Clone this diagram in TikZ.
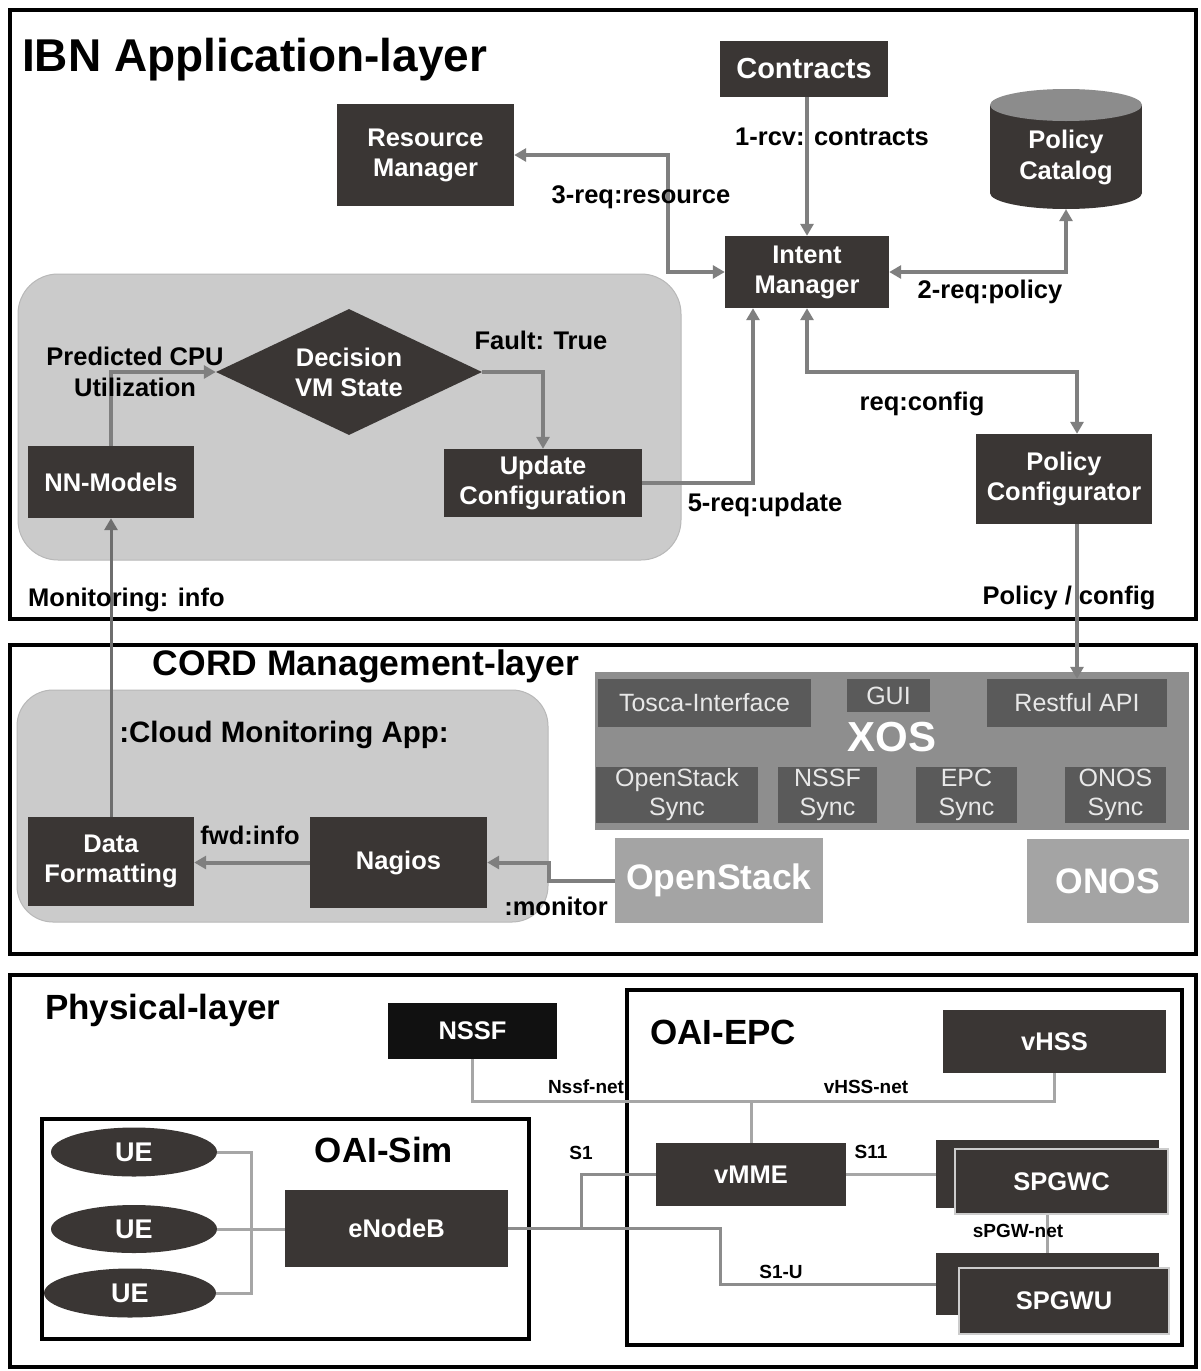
\documentclass[tikz,border=0pt]{standalone}
\usepackage{fontspec}
\setmainfont{Liberation Sans}
\usetikzlibrary{arrows.meta,shapes.geometric,calc}
\definecolor{nodedark}{HTML}{3A3634}
\definecolor{arrowgray}{HTML}{7F7F7F}
\definecolor{monline}{HTML}{6E6E6E}
\definecolor{regiongray}{HTML}{CBCBCB}
\definecolor{regionedge}{HTML}{B8B8B8}
\definecolor{xosgray}{HTML}{8E8E8E}
\definecolor{subgray}{HTML}{5A5A5A}
\definecolor{subtext}{HTML}{E8E8E8}
\definecolor{stackgray}{HTML}{A4A4A4}
\definecolor{linkgray}{HTML}{A6A6A6}
\definecolor{linkdark}{HTML}{8C8C8C}
\definecolor{catalogtop}{HTML}{8C8C8C}
\definecolor{nssfblack}{HTML}{111111}
\begin{document}
\begin{tikzpicture}[x=1pt,y=-1pt,
  dbox/.style={rectangle, fill=nodedark, text=white, font=\bfseries\fontsize{25.5}{30}\selectfont, align=center, inner sep=0pt},
  subbox/.style={rectangle, fill=subgray, text=subtext, font=\fontsize{25}{29}\selectfont, align=center, inner sep=0pt},
  bigbox/.style={rectangle, fill=stackgray, text=white, font=\bfseries\fontsize{35.5}{40}\selectfont, inner sep=0pt},
  lbl/.style={font=\bfseries\fontsize{25.5}{31}\selectfont, align=center, inner sep=0pt},
  ttl/.style={font=\bfseries\fontsize{35}{40}\selectfont, inner sep=0pt},
  smalllbl/.style={font=\bfseries\fontsize{19}{22}\selectfont, inner sep=0pt},
  layerframe/.style={draw=black, line width=3.5pt},
  region/.style={fill=regiongray, draw=regionedge, line width=1pt},
  flow/.style={draw=arrowgray, line width=4pt, -{Triangle[length=12pt,width=13pt]}},
  flowboth/.style={draw=arrowgray, line width=4pt, {Triangle[length=12pt,width=13pt]}-{Triangle[length=12pt,width=13pt]}},
  link/.style={draw=linkgray, line width=3pt},
  ue/.style={ellipse, fill=nodedark, text=white, font=\bfseries\fontsize{27}{30}\selectfont, inner sep=0pt},
]
\fill[white] (0,0) rectangle (1200,1371);
\useasboundingbox (0,0) rectangle (1200,1371);

% ================= IBN Application-layer =================
\draw[layerframe] (10,10) rectangle (1196,619);
\node[font=\bfseries\fontsize{46}{50}\selectfont, inner sep=0pt, anchor=west] (ibntitle) at (22,60) {IBN Application-layer};
\draw[region, rounded corners=40pt] (18,274) rectangle (681,560);

\node[dbox, font=\bfseries\fontsize{29}{32}\selectfont, minimum width=168pt, minimum height=56pt] (contracts) at (804,69) {Contracts};
\node[dbox, minimum width=177pt, minimum height=102pt] (resmgr) at (425.5,155) {Resource\\Manager};
\node[dbox, minimum width=164pt, minimum height=72pt] (intent) at (807,272) {Intent\\Manager};
% Policy Catalog cylinder
\fill[nodedark] (1066,193) ellipse [x radius=76, y radius=16];
\fill[nodedark] (990,105) rectangle (1142,193);
\fill[catalogtop] (1066,105) ellipse [x radius=76, y radius=16];
\node[lbl, text=white, minimum width=152pt, minimum height=104pt] (catalog) at (1066,157) {Policy\\Catalog};
\node[dbox, minimum width=176pt, minimum height=90pt] (polconf) at (1064,479) {Policy\\Configurator};
\node[dbox, minimum width=198pt, minimum height=68pt] (update) at (543,483) {Update\\Configuration};
\node[dbox, minimum width=166pt, minimum height=72pt] (nn) at (111,482) {NN-Models};
\node[dbox, diamond, aspect=2.1, minimum width=266pt, minimum height=126pt] (decision) at (349,372) {Decision\\VM State};

% ================= CORD Management-layer =================
\draw[layerframe] (10,645) rectangle (1196,954);
\node[ttl, font=\bfseries\fontsize{35.5}{40}\selectfont] (cordtitle) at (366,666) {CORD Management-layer};
\draw[region, rounded corners=36pt] (17,690) rectangle (548,922);
\node[lbl, font=\bfseries\fontsize{29.5}{33}\selectfont] (cloudapp) at (284,735) {:Cloud Monitoring App:};
\node[dbox, minimum width=166pt, minimum height=89pt] (df) at (111,861.5) {Data\\Formatting};
\node[dbox, minimum width=177pt, minimum height=91pt] (nagios) at (398.5,862.5) {Nagios};

\node[fill=xosgray, minimum width=594pt, minimum height=158pt, inner sep=0pt] (xos) at (892,751) {};
\node[subbox, minimum width=213pt, minimum height=48pt] (tosca) at (704.5,703) {Tosca-Interface};
\node[subbox, minimum width=83pt, minimum height=33pt] (gui) at (888.5,695.5) {GUI};
\node[subbox, minimum width=180pt, minimum height=48pt] (rest) at (1077,703) {Restful API};
\node[font=\bfseries\fontsize{42}{46}\selectfont, text=white, inner sep=0pt] (xoslabel) at (892,737) {XOS};
\node[subbox, minimum width=162pt, minimum height=56pt] (ossync) at (677,795) {OpenStack\\Sync};
\node[subbox, minimum width=99pt, minimum height=56pt] (nssfsync) at (827.5,795) {NSSF\\Sync};
\node[subbox, minimum width=101pt, minimum height=56pt] (epcsync) at (966.5,795) {EPC\\Sync};
\node[subbox, minimum width=101pt, minimum height=56pt] (onossync) at (1115.5,795) {ONOS\\Sync};
\node[bigbox, minimum width=208pt, minimum height=85pt] (openstack) at (719,880.5) {OpenStack};
\node[bigbox, minimum width=162pt, minimum height=84pt] (onos) at (1108,881) {ONOS};

% ================= Physical-layer =================
\draw[layerframe] (10,975) rectangle (1196,1367);
\node[ttl, anchor=west] (phystitle) at (45,1010) {Physical-layer};
\draw[layerframe] (627,990) rectangle (1182,1345);
\node[ttl, anchor=west] (epctitle) at (650,1032) {OAI-EPC};
\draw[layerframe] (42,1119) rectangle (529,1339);
\node[ttl] (simtitle) at (384,1150) {OAI-Sim};

\node[dbox, fill=nssfblack, minimum width=169pt, minimum height=56pt] (nssf) at (472.5,1031) {NSSF};
\node[dbox, minimum width=223pt, minimum height=63pt] (vhss) at (1054.5,1041.5) {vHSS};
\node[dbox, minimum width=190pt, minimum height=63pt] (vmme) at (751,1174.5) {vMME};
\node[dbox, minimum width=223pt, minimum height=68pt] (spgwcb) at (1047.5,1174) {};
\node[dbox, draw=white!80!black, line width=1.5pt, minimum width=213pt, minimum height=65pt] (spgwc) at (1061.5,1181.5) {SPGWC};
\node[dbox, minimum width=223pt, minimum height=62pt] (spgwub) at (1047.5,1284) {};
\node[dbox, draw=white!80!black, line width=1.5pt, minimum width=210pt, minimum height=66pt] (spgwu) at (1064,1301) {SPGWU};

\node[ue, minimum width=166pt, minimum height=49pt] (ue1) at (134,1152) {UE};
\node[ue, minimum width=166pt, minimum height=48pt] (ue2) at (134,1229) {UE};
\node[ue, minimum width=172pt, minimum height=49pt] (ue3) at (130,1293) {UE};
\node[dbox, minimum width=223pt, minimum height=77pt] (enb) at (396.5,1228.5) {eNodeB};

% ================= Connectors =================
\coordinate (rbend) at (668,200);
\coordinate (cfgbend) at (1077,372);
\coordinate (upin) at ($(intent.south)+(-54,0)$);
\draw[flow] (intent.north |- contracts.south) -- (intent.north);
\draw[flowboth] (resmgr.east) -| (rbend) |- (intent.west);
\draw[flowboth] (intent.east) -| (catalog.south);
\draw[flow] (update.east) -| (upin);
\draw[flowboth] (intent.south) |- (cfgbend) -- (cfgbend |- polconf.north);
\draw[flow] (cfgbend |- polconf.south) -- (rest.north);
\draw[flow] (nn.north) |- (decision.west);
\draw[flow] (decision.east) -| (update.north);
\draw[draw=monline, line width=3pt, -{Triangle[length=12pt,width=13pt]}] (df.north) -- (nn.south);

\coordinate (monbend) at (549,880.5);
\draw[flow] (nagios.west) -- (nagios.west -| df.east);
\draw[flow] (openstack.west) -- (monbend) |- (nagios.east);

\coordinate (busx) at (251,1152);
\coordinate (netbus) at (751,1101);
\coordinate (s1x) at (581,1228.5);
\coordinate (s1ux) at (720,1228.5);
\draw[link] (ue1.east) -- (busx) -- (busx |- ue3.east) -- (ue3.east);
\draw[link] (ue2.east) -- (ue2.east -| enb.west);
\draw[draw=linkdark, line width=3pt] (enb.east) -- (s1ux) |- (spgwub.west);
\draw[draw=linkdark, line width=3pt] (s1x) |- (vmme.west);
\draw[link] (vmme.east) -- (vmme.east -| spgwcb.west);
\draw[link] (nssf.south) |- (netbus) -| (vhss.south);
\draw[link] (vmme.north) -- (netbus);
\draw[link] (spgwub.north) -- (spgwub.north |- spgwc.south);

% ================= Labels =================
\node[lbl] (l1) at (832,137) {1-rcv: contracts};
\node[lbl] (l3) at (641,197) {3-req:resource};
\node[lbl] (l2) at (990,292) {2-req:policy};
\node[lbl] (lcfg) at (922,404) {req:config};
\node[lbl] (l5) at (765,505) {5-req:update};
\node[lbl] (lpol) at (1069,598) {Policy / config};
\node[lbl, anchor=west] (lmon) at (28,600) {Monitoring: info};
\node[lbl] (lcpu) at (135,372) {Predicted CPU\\Utilization};
\node[lbl] (lfault) at (541,340) {Fault: True};
\node[lbl] (lfwd) at (250,835) {fwd:info};
\node[lbl] (lmonitor) at (556,906) {:monitor};

\node[smalllbl] (ls1) at (581,1153) {S1};
\node[smalllbl] (ls11) at (871,1152) {S11};
\node[smalllbl] (ls1u) at (781,1272) {S1-U};
\node[smalllbl] (lspgw) at (1018,1231) {sPGW-net};
\node[smalllbl] (lnssf) at (586,1087) {Nssf-net};
\node[smalllbl] (lvhss) at (866,1087) {vHSS-net};
\end{tikzpicture}
\end{document}
